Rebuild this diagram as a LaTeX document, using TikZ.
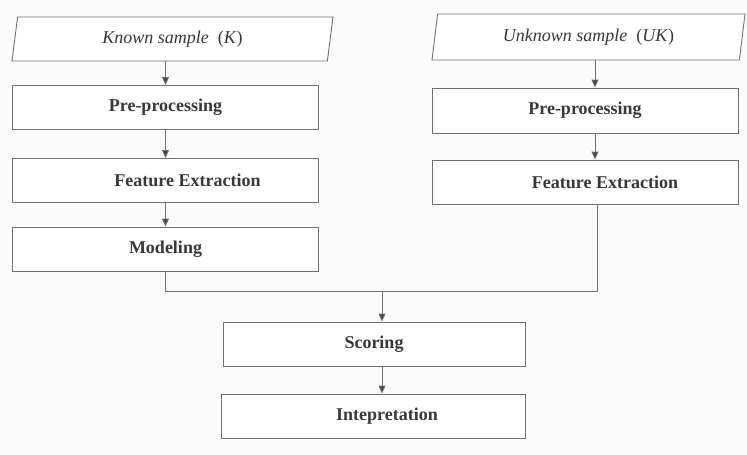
\documentclass[tikz,border=0pt]{standalone}
\usepackage{fontspec}
\setmainfont{Liberation Serif}
\usetikzlibrary{shapes.geometric,arrows.meta}
\definecolor{linegray}{HTML}{707070}
\definecolor{arrowgray}{HTML}{444444}
\definecolor{textgray}{HTML}{383838}
\definecolor{bggray}{HTML}{FBFBFB}
\begin{document}
\begin{tikzpicture}[x=1pt,y=-1pt,
  box/.style={draw=linegray, line width=0.9pt, fill=white, minimum width=306pt,
    minimum height=44pt, inner sep=0pt, text=textgray,
    font=\bfseries\fontsize{18}{20}\selectfont},
  iobox/.style={trapezium, trapezium left angle=71, trapezium right angle=109,
    trapezium stretches body, draw=linegray, line width=0.9pt, fill=white,
    minimum width=321pt, minimum height=44pt, inner sep=0pt, text=textgray,
    font=\fontsize{18}{20}\selectfont},
  conn/.style={draw=linegray, line width=0.9pt},
  arr/.style={conn, -{Triangle[length=8pt,width=7pt,fill=arrowgray]}}
]
\fill[bggray] (0,0) rectangle (747,455);
\useasboundingbox (0,0) rectangle (747,455);

% left column
\node[iobox] (known) at (172.5,39) {\textit{Known sample}\ \ (\textit{K})};
\node[box] (lpre) at (165.5,107.5) {Pre-processing};
\node[box] (lfeat) at (165.5,180.5) {\hspace*{44pt}Feature Extraction};
\node[box] (lmod) at (165.5,249) {Modeling};

% right column
\node[iobox, minimum width=313pt, minimum height=46pt] (unknown) at (588.5,37) {\textit{Unknown sample}\ \ (\textit{UK})};
\node[box, minimum height=45pt] (rpre) at (585,110.5) {Pre-processing};
\node[box] (rfeat) at (585,182) {\hspace*{40pt}Feature Extraction};

% bottom
\node[box, minimum width=302pt] (score) at (374,344) {Scoring};
\node[box, minimum width=304pt] (interp) at (373,416) {\hspace*{28pt}Intepretation};

\coordinate (j) at (382,291);

% connectors
\draw[arr] (lpre.north |- known.south) -- (lpre.north);
\draw[arr] (lpre.south) -- (lfeat.north);
\draw[arr] (lfeat.south) -- (lmod.north);

\draw[arr] ([xshift=10pt]rpre.north |- unknown.south) -- ([xshift=10pt]rpre.north);
\draw[arr] ([xshift=10pt]rpre.south) -- ([xshift=10pt]rfeat.north);

\draw[conn] (lmod.south) |- (j);
\draw[conn] ([xshift=12pt]rfeat.south) |- (j);
\draw[arr] (j) -- (j |- score.north);
\draw[arr] ([xshift=8pt]score.south) -- ([xshift=8pt]score.south |- interp.north);
\end{tikzpicture}
\end{document}
